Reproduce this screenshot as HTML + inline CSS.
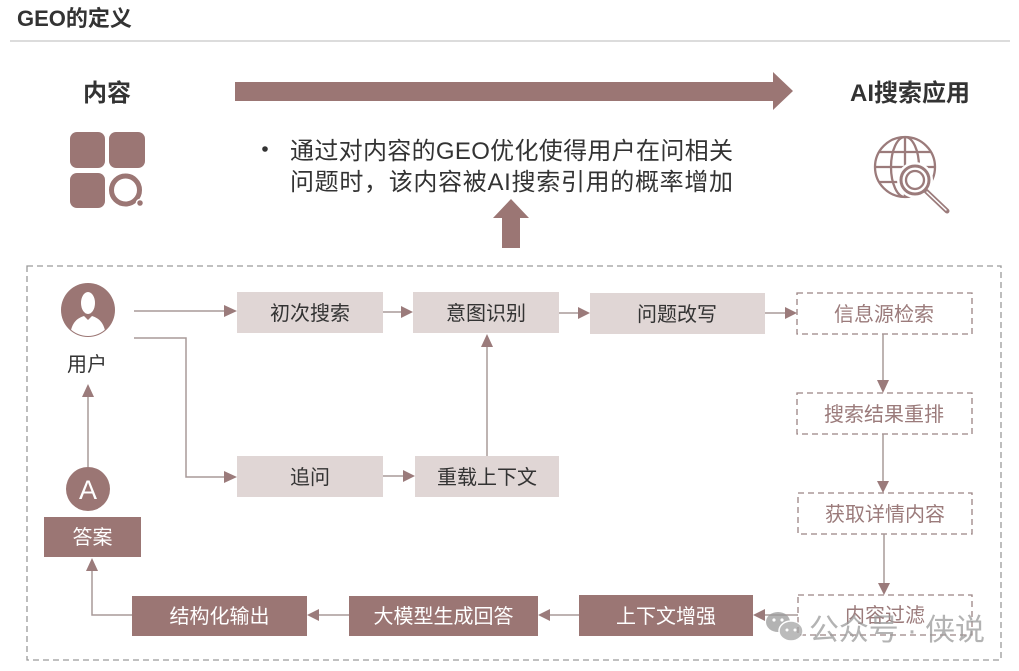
<!DOCTYPE html>
<html><head><meta charset="utf-8"><style>
html,body{margin:0;padding:0;background:#fff;}
svg{display:block;}
text{font-family:"Liberation Sans","Noto Sans CJK SC",sans-serif;}
</style></head><body>
<svg width="1019" height="671" viewBox="0 0 1019 671" xmlns="http://www.w3.org/2000/svg">
<rect x="0" y="0" width="1019" height="671" fill="#fff"/>
<!-- title -->
<text x="17" y="26" font-size="22" font-weight="bold" fill="#333">GEO的定义</text>
<line x1="10" y1="41" x2="1010" y2="41" stroke="#c8c8c8" stroke-width="1.2"/>

<!-- headers -->
<text x="107" y="101" font-size="24" font-weight="bold" fill="#333" text-anchor="middle">内容</text>
<text x="910" y="101" font-size="24" font-weight="bold" fill="#333" text-anchor="middle">AI搜索应用</text>

<!-- big arrow -->
<polygon points="235,82 773,82 773,72 793,91 773,110 773,101 235,101" fill="#9b7674"/>

<!-- content icon -->
<rect x="70" y="132" width="35" height="36" rx="7" fill="#9b7674"/>
<rect x="109" y="132" width="36" height="36" rx="7" fill="#9b7674"/>
<rect x="70" y="173" width="35" height="35" rx="7" fill="#9b7674"/>
<circle cx="125.5" cy="190" r="14" fill="none" stroke="#9b7674" stroke-width="5"/>
<circle cx="140" cy="203" r="3.5" fill="#9b7674" stroke="#fff" stroke-width="1.5"/>

<!-- bullet text -->
<circle cx="265" cy="149" r="2.8" fill="#333"/>
<text x="290" y="159" font-size="24" fill="#333" textLength="443" lengthAdjust="spacing">通过对内容的GEO优化使得用户在问相关</text>
<text x="290" y="190" font-size="24" fill="#333" textLength="443" lengthAdjust="spacing">问题时，该内容被AI搜索引用的概率增加</text>

<!-- up thick arrow -->
<polygon points="502,248 520,248 520,218 529,218 511,199 493,218 502,218" fill="#9b7674"/>

<!-- globe icon -->
<defs><clipPath id="gc"><circle cx="905" cy="167" r="30"/></clipPath></defs>
<g fill="none" stroke="#9b7b7b" stroke-width="2.3" stroke-linecap="round">
  <circle cx="905" cy="167" r="30"/>
  <g clip-path="url(#gc)">
    <ellipse cx="905" cy="167" rx="14" ry="30"/>
    <line x1="905" y1="135" x2="905" y2="199"/>
    <line x1="872" y1="152" x2="938" y2="152"/>
    <line x1="872" y1="167" x2="938" y2="167"/>
    <line x1="872" y1="182" x2="938" y2="182"/>
  </g>
  <circle cx="915" cy="180" r="15" fill="#fff" stroke="#fff" stroke-width="6"/>
  <circle cx="915" cy="180" r="14" fill="#fff" stroke-width="3"/>
  <circle cx="915" cy="180" r="9"/>
  <line x1="926" y1="191" x2="947" y2="211" stroke-width="5"/>
  <line x1="927" y1="192" x2="946" y2="210" stroke="#fff" stroke-width="1.5"/>
</g>

<!-- outer dashed border -->
<rect x="27" y="266" width="974" height="394" fill="none" stroke="#9a9a9a" stroke-width="1.3" stroke-dasharray="6,4"/>

<!-- user icon -->
<defs><clipPath id="uc"><circle cx="88" cy="310" r="26"/></clipPath></defs>
<circle cx="88" cy="310" r="27" fill="#9b7674"/>
<g clip-path="url(#uc)" fill="#fff">
  <ellipse cx="88" cy="303" rx="7" ry="11"/>
  <path d="M 70 340 C 70 322 78 318 84 316 L 88 320 L 92 316 C 98 318 106 322 106 340 Z"/>
</g>
<text x="87" y="371" font-size="20" fill="#333" text-anchor="middle">用户</text>

<!-- A circle -->
<circle cx="88" cy="489" r="22" fill="#9b7674"/>
<text x="88" y="499" font-size="27" fill="#fff" text-anchor="middle">A</text>

<!-- 答案 -->
<rect x="44" y="517" width="97" height="40" fill="#9b7674"/>
<text x="92.5" y="544" font-size="20" fill="#fff" text-anchor="middle">答案</text>

<!-- light boxes -->
<g fill="#e0d6d5">
  <rect x="237" y="292" width="146" height="41"/>
  <rect x="413" y="292" width="146" height="41"/>
  <rect x="590" y="293" width="175" height="41"/>
  <rect x="237" y="456" width="146" height="41"/>
  <rect x="415" y="456" width="144" height="41"/>
</g>
<g font-size="20" fill="#333" text-anchor="middle">
  <text x="310" y="320">初次搜索</text>
  <text x="486" y="320">意图识别</text>
  <text x="677" y="321">问题改写</text>
  <text x="310" y="484">追问</text>
  <text x="487" y="484">重载上下文</text>
</g>

<!-- dashed boxes -->
<g fill="#fff" stroke="#9b8484" stroke-width="1.3" stroke-dasharray="6,4">
  <rect x="797" y="293" width="175" height="41"/>
  <rect x="797" y="393" width="175" height="41"/>
  <rect x="798" y="493" width="174" height="41"/>
  <rect x="798" y="595" width="174" height="40"/>
</g>
<g font-size="20" fill="#9b7b7b" text-anchor="middle">
  <text x="884" y="321">信息源检索</text>
  <text x="884" y="421">搜索结果重排</text>
  <text x="885" y="521">获取详情内容</text>
  <text x="885" y="622">内容过滤</text>
</g>

<!-- dark bottom boxes -->
<g fill="#9b7674">
  <rect x="132" y="596" width="175" height="40"/>
  <rect x="349" y="596" width="189" height="40"/>
  <rect x="579" y="595" width="174" height="41"/>
</g>
<g font-size="20" fill="#fff" text-anchor="middle">
  <text x="219.5" y="623">结构化输出</text>
  <text x="443.5" y="623">大模型生成回答</text>
  <text x="666" y="623">上下文增强</text>
</g>

<!-- connectors -->
<g fill="none" stroke="#a89a99" stroke-width="1.5">
  <line x1="134" y1="311" x2="225" y2="311"/>
  <polyline points="134,338 186,338 186,477 225,477"/>
  <line x1="383" y1="312" x2="402" y2="312"/>
  <line x1="559" y1="313" x2="579" y2="313"/>
  <line x1="765" y1="313" x2="786" y2="313"/>
  <line x1="383" y1="476" x2="404" y2="476"/>
  <line x1="487" y1="456" x2="487" y2="346"/>
  <line x1="883" y1="334" x2="883" y2="381"/>
  <line x1="883" y1="434" x2="883" y2="482"/>
  <line x1="884" y1="534" x2="884" y2="584"/>
  <line x1="798" y1="615" x2="764" y2="615"/>
  <line x1="579" y1="615" x2="549" y2="615"/>
  <line x1="349" y1="615" x2="318" y2="615"/>
  <polyline points="132,615 92,615 92,570"/>
  <line x1="88" y1="467" x2="88" y2="396"/>
</g>
<g fill="#9b7b7b">
  <polygon points="224,305 237,311 224,317"/>
  <polygon points="224,471 237,477 224,483"/>
  <polygon points="401,306 413,312 401,318"/>
  <polygon points="578,307 590,313 578,319"/>
  <polygon points="785,307 797,313 785,319"/>
  <polygon points="403,470 415,476 403,482"/>
  <polygon points="481,347 487,334 493,347"/>
  <polygon points="877,380 883,393 889,380"/>
  <polygon points="877,481 883,493 889,481"/>
  <polygon points="878,583 884,595 890,583"/>
  <polygon points="765,609 753,615 765,621"/>
  <polygon points="550,609 538,615 550,621"/>
  <polygon points="319,609 307,615 319,621"/>
  <polygon points="86,571 92,558 98,571"/>
  <polygon points="82,397 88,384 94,397"/>
</g>

<!-- watermark -->
<g opacity="0.75">
  <ellipse cx="778" cy="622" rx="12" ry="10" fill="#9a9a9a"/>
  <ellipse cx="791" cy="631" rx="12" ry="10" fill="#a5a5a5" stroke="#fff" stroke-width="1.5"/>
  <circle cx="774" cy="620" r="1.6" fill="#fff"/>
  <circle cx="782" cy="620" r="1.6" fill="#fff"/>
  <circle cx="787" cy="630" r="1.5" fill="#fff"/>
  <circle cx="795" cy="630" r="1.5" fill="#fff"/>
  <text x="809" y="640" font-size="30" fill="#9a9a9a" textLength="176" lengthAdjust="spacing">公众号 · 侠说</text>
</g>
</svg>
</body></html>
